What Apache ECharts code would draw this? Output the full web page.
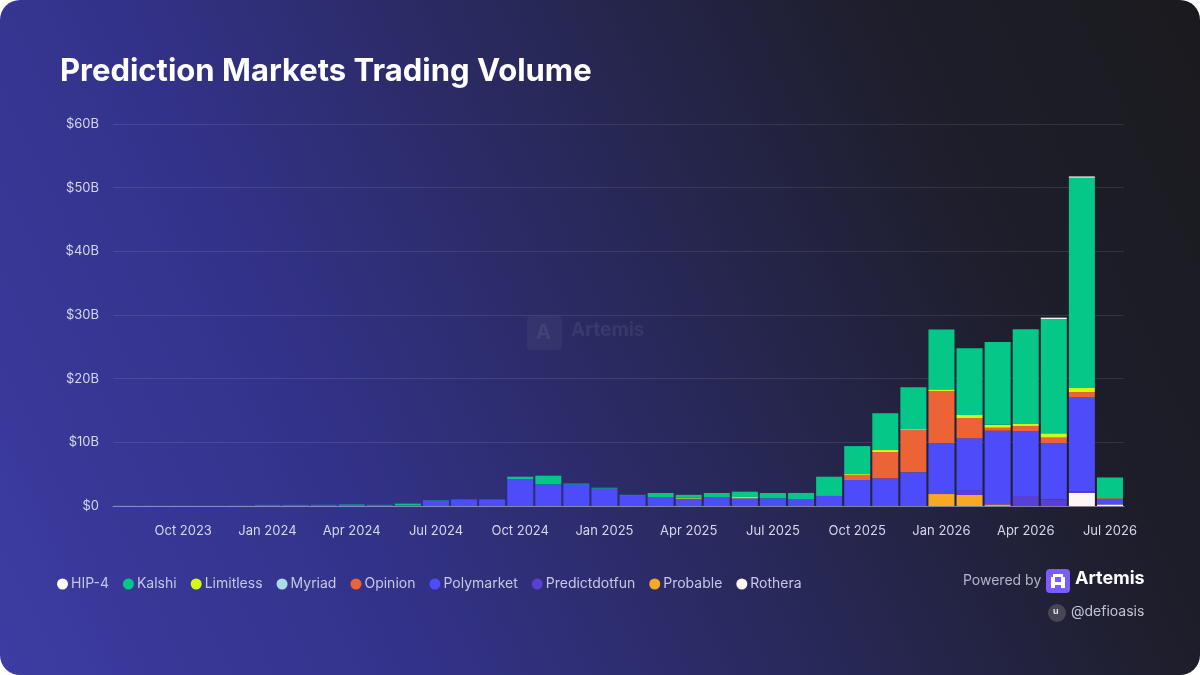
<!DOCTYPE html>
<html>
<head>
<meta charset="utf-8">
<script src="https://cdn.jsdelivr.net/npm/echarts@6/dist/echarts.min.js"></script>
<style>
  html, body { margin: 0; padding: 0; background: #ffffff; }
  #card {
    width: 1200px; height: 675px; border-radius: 20px; overflow: hidden;
    background: linear-gradient(65deg, #3d3ca2 0%, #33328a 28%, #282858 55%, #1e1e2c 78%, #1a1a1e 100%);
  }
  #chart { width: 1200px; height: 675px; }
</style>
</head>
<body>
<div id="card"><div id="chart"></div></div>
<script>
// months shown on the x axis (Aug 2023 .. Jul 2026)
var months = [
  'Aug 2023', 'Sep 2023', 'Oct 2023', 'Nov 2023', 'Dec 2023',
  'Jan 2024', 'Feb 2024', 'Mar 2024', 'Apr 2024', 'May 2024', 'Jun 2024', 'Jul 2024',
  'Aug 2024', 'Sep 2024', 'Oct 2024', 'Nov 2024', 'Dec 2024',
  'Jan 2025', 'Feb 2025', 'Mar 2025', 'Apr 2025', 'May 2025', 'Jun 2025', 'Jul 2025',
  'Aug 2025', 'Sep 2025', 'Oct 2025', 'Nov 2025', 'Dec 2025',
  'Jan 2026', 'Feb 2026', 'Mar 2026', 'Apr 2026', 'May 2026', 'Jun 2026', 'Jul 2026'
];

// monthly volume, $B
var hip4 = [0,0,0,0,0, 0,0,0,0,0,0,0, 0,0,0,0,0, 0,0,0,0,0,0,0, 0,0,0,0,0, 0,0,0,0,0.2,0.2,0];
var kalshi = [0.01,0.01,0.01,0.01,0.01, 0.02,0.02,0.03,0.15,0.03,0.25,0.05, 0.05,0.05,0.36,1.36,0.12,
  0.12,0.1,0.68,0.45,0.68,0.85,0.84, 1.0,2.95,4.4,5.76,6.54, 9.42,10.47,12.98,14.87,17.96,33.03,3.25];
var limitless = [0,0,0,0,0, 0,0,0,0,0,0,0, 0,0,0,0,0, 0,0,0,0.15,0,0.2,0, 0,0,0.2,0.31,0.04, 0.26,0.47,0.47,0.31,0.68,0.63,0.02];
var myriad = [0,0,0,0,0, 0,0,0,0,0,0,0, 0,0,0,0,0, 0,0,0,0,0,0,0, 0,0.08,0,0,0.12, 0,0,0,0,0,0,0];
var opinion = [0,0,0,0,0, 0,0,0,0,0,0,0, 0,0,0,0,0, 0,0,0,0,0,0,0, 0,0,0.73,4.14,6.65, 8.22,3.19,0.47,0.79,0.89,0.79,0.12];
var polymarket = [0.03,0.03,0.03,0.03,0.04, 0.15,0.15,0.15,0.08,0.15,0.12,0.85, 0.95,0.95,4.24,3.4,3.4,
  2.75,1.65,1.36,1.15,1.36,1.2,1.2, 1.05,1.57,4.08,4.34,5.29, 7.96,8.22,11.52,10.21,8.8,14.82,0.79];
var predictdotfun = [0,0,0,0,0, 0,0,0,0,0,0,0, 0,0,0,0,0, 0,0,0,0,0,0,0, 0,0,0,0,0, 0,0.68,0.05,1.57,1.05,0.25,0.05];
var probable = [0,0,0,0,0, 0,0,0,0,0,0,0, 0,0,0,0,0, 0,0,0,0,0,0,0, 0,0,0,0,0, 1.88,1.73,0.25,0,0,0,0];
var rothera = [0,0,0,0,0, 0,0,0,0,0,0,0, 0,0,0,0,0, 0,0,0,0,0,0,0, 0,0,0,0,0, 0,0,0,0,0,2.04,0.25];

var yTicks = [0, 10, 20, 30, 40, 50, 60];

var legendNames = ['HIP-4', 'Kalshi', 'Limitless', 'Myriad', 'Opinion', 'Polymarket', 'Predictdotfun', 'Probable', 'Rothera'];

// stack from the bottom up
var stackList = [
  { name: 'Rothera', data: rothera, color: '#fdf6f6' },
  { name: 'Probable', data: probable, color: '#f9a826' },
  { name: 'Predictdotfun', data: predictdotfun, color: '#5a3fd6' },
  { name: 'Polymarket', data: polymarket, color: '#4d4cfb' },
  { name: 'Opinion', data: opinion, color: '#ec6436' },
  { name: 'Myriad', data: myriad, color: '#a9dbe9' },
  { name: 'Limitless', data: limitless, color: '#d5f716' },
  { name: 'Kalshi', data: kalshi, color: '#04c788' },
  { name: 'HIP-4', data: hip4, color: '#ffffff' }
];

var series = stackList.map(function (s) {
  return {
    name: s.name,
    type: 'bar',
    stack: 'vol',
    barWidth: 26,
    itemStyle: { color: s.color },
    emphasis: { disabled: true },
    data: s.data
  };
});

var myChart = echarts.init(document.getElementById('chart'), null, { renderer: 'canvas' });

var option = {
  backgroundColor: 'transparent',
  animation: false,
  textStyle: { fontFamily: 'Inter, "Noto Sans", sans-serif' },
  title: {
    text: 'Prediction Markets Trading Volume',
    left: 55,
    top: 51,
    textStyle: { color: '#ffffff', fontSize: 31, fontWeight: 700, fontFamily: 'Inter, sans-serif' }
  },
  grid: { left: 113, right: 76, top: 124, bottom: 169 },
  legend: {
    data: legendNames,
    left: 52,
    top: 572,
    icon: 'circle',
    itemWidth: 11,
    itemHeight: 11,
    itemGap: 14,
    textStyle: { color: '#c6c7e4', fontSize: 14, padding: [0, 0, 0, -2] }
  },
  xAxis: {
    type: 'category',
    data: months,
    axisLine: { show: true, lineStyle: { color: 'rgba(190,190,235,0.55)', width: 1 } },
    axisTick: { show: false },
    axisLabel: {
      color: '#d6d7ea',
      fontSize: 13,
      margin: 19,
      interval: function (idx) { return (idx - 2) % 3 === 0; }
    }
  },
  yAxis: {
    type: 'value',
    min: yTicks[0],
    max: yTicks[yTicks.length - 1],
    interval: 10,
    axisLine: { show: false },
    axisTick: { show: false },
    splitLine: { lineStyle: { color: 'rgba(255,255,255,0.1)', width: 1 } },
    axisLabel: {
      color: '#d6d7ea',
      fontSize: 13,
      margin: 14,
      formatter: function (v) { return '$' + v + (v === 0 ? '' : 'B'); }
    }
  },
  graphic: [
    // watermark
    { type: 'rect', left: 527, top: 316, shape: { width: 35, height: 34, r: 4 }, style: { fill: 'rgba(255,255,255,0.045)' }, z: 0 },
    { type: 'text', left: 536, top: 323, style: { text: 'A', fill: 'rgba(255,255,255,0.07)', font: 'bold 20px Inter' }, z: 0 },
    { type: 'text', left: 571, top: 321, style: { text: 'Artemis', fill: 'rgba(255,255,255,0.07)', font: 'bold 19px Inter' }, z: 0 },
    // footer
    { type: 'text', left: 963, top: 574, style: { text: 'Powered by', fill: '#b4b5c8', font: '14px Inter' } },
    { type: 'rect', left: 1046, top: 569, shape: { width: 24, height: 24, r: 4 }, style: { fill: '#7b5cff' } },
    { type: 'rect', left: 1053, top: 574, shape: { width: 10, height: 3 }, style: { fill: '#ffffff' } },
    { type: 'rect', left: 1051, top: 577, shape: { width: 4, height: 11 }, style: { fill: '#ffffff' } },
    { type: 'rect', left: 1061, top: 577, shape: { width: 4, height: 11 }, style: { fill: '#ffffff' } },
    { type: 'rect', left: 1055, top: 582, shape: { width: 6, height: 3 }, style: { fill: '#ffffff' } },
    { type: 'text', left: 1075, top: 570, style: { text: 'Artemis', fill: '#ffffff', font: 'bold 18px Inter' } },
    { type: 'circle', shape: { cx: 1057, cy: 613, r: 9 }, style: { fill: '#464656' } },
    { type: 'text', left: 1053, top: 607, style: { text: 'u', fill: '#e0e0e8', font: 'bold 9px Inter' } },
    { type: 'text', left: 1071, top: 605, style: { text: '@defioasis', fill: '#c3c4d4', font: '14px Inter' } }
  ],
  series: series
};

if (option && typeof option == 'object') {
  myChart.setOption(option, true);
}
</script>
</body>
</html>
